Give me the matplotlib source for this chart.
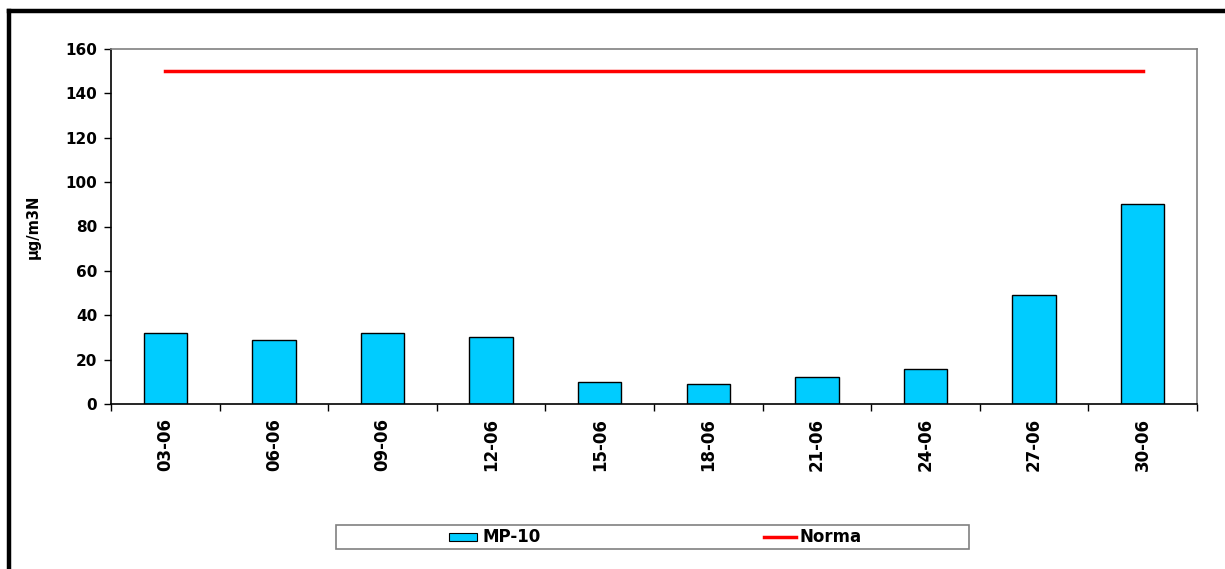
import matplotlib
matplotlib.use("Agg")
import matplotlib.pyplot as plt
from matplotlib.lines import Line2D
from matplotlib.patches import Rectangle
import numpy as np

# Daily MP-10 concentrations and the regulatory limit
fechas = ["03-06", "06-06", "09-06", "12-06", "15-06",
          "18-06", "21-06", "24-06", "27-06", "30-06"]
mp10 = [32, 29, 32, 30, 10, 9, 12, 16, 49, 90]
norma = [150] * len(fechas)
y_ticks = [0, 20, 40, 60, 80, 100, 120, 140, 160]

BAR_COLOR = "#00CCFF"
LINE_COLOR = "#FF0000"

W, H = 1225, 569
fig = plt.figure(figsize=(W / 100, H / 100), dpi=100)
plt.rcParams["font.family"] = ["DejaVu Sans"]


def fx(px):
    return px / W


def fy(py):
    return 1 - py / H


# Outer chart frame (top and left edges)
fig.add_artist(Line2D([fx(9), 1], [fy(11), fy(11)], color="black",
                      lw=3.2, transform=fig.transFigure, solid_capstyle="projecting"))
fig.add_artist(Line2D([fx(9), fx(9)], [0, fy(11)], color="black",
                      lw=3.2, transform=fig.transFigure, solid_capstyle="projecting"))

left, right, top, bottom = 111, 1197, 49, 404
ax = fig.add_axes([fx(left), fy(bottom), fx(right - left), (bottom - top) / H])

x = np.arange(len(fechas))
ax.bar(x, mp10, width=0.4, color=BAR_COLOR, edgecolor="black", linewidth=1.0,
       zorder=2, label="MP-10")
ax.plot(x, norma, color=LINE_COLOR, lw=2.5, zorder=3, label="Norma")

ax.set_xlim(-0.5, len(fechas) - 0.5)
ax.set_ylim(0, 160)
ax.set_yticks(y_ticks)
ax.set_yticklabels([str(v) for v in y_ticks], fontsize=11, fontweight="bold")
ax.set_xticks(x)
ax.set_xticklabels(fechas, rotation=90, fontsize=12, fontweight="bold")
ax.tick_params(axis="x", which="major", length=0, pad=10)
ax.set_xticks(np.arange(len(fechas) + 1) - 0.5, minor=True)
ax.tick_params(axis="x", which="minor", length=5, width=1, color="black", direction="out")
ax.tick_params(axis="y", length=5, width=1, direction="out", pad=5)

for s in ["top", "right"]:
    ax.spines[s].set_color("#808080")
    ax.spines[s].set_linewidth(1.2)
for s in ["left", "bottom"]:
    ax.spines[s].set_color("black")
    ax.spines[s].set_linewidth(1.2)

fig.text(fx(33), fy(227), "µg/m3N", rotation=90, ha="center", va="center",
         fontsize=10.5, fontweight="bold")

# Legend box with two equally wide entry slots
fig.add_artist(Rectangle((fx(336), fy(549)), fx(969 - 336), (549 - 525) / H,
                         transform=fig.transFigure, facecolor="white",
                         edgecolor="#808080", lw=1.2))
fig.add_artist(Rectangle((fx(449), fy(540.5)), fx(28), 8 / H,
                         transform=fig.transFigure, facecolor=BAR_COLOR,
                         edgecolor="black", lw=0.8))
fig.text(fx(482), fy(537.5), "MP-10", ha="left", va="center",
         fontsize=12, fontweight="bold")
fig.add_artist(Line2D([fx(764), fx(796)], [fy(536.5), fy(536.5)],
                      transform=fig.transFigure, color=LINE_COLOR, lw=2.5))
fig.text(fx(800), fy(537.5), "Norma", ha="left", va="center",
         fontsize=12, fontweight="bold")

fig.savefig("out.png", dpi=100)
